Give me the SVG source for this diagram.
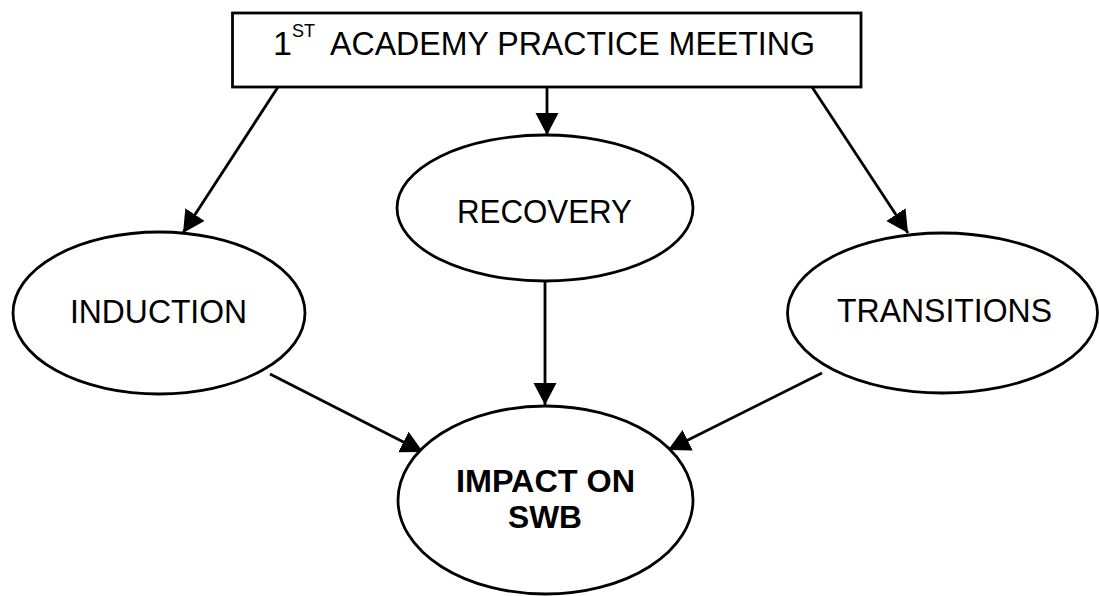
<svg xmlns="http://www.w3.org/2000/svg" width="1099" height="596" viewBox="0 0 1099 596">
<style>
.shape{fill:#fff;stroke:#000;stroke-width:2.8}
.lbl{font-family:"Liberation Sans",Arial,sans-serif;font-size:34px;fill:#000}
.sup{font-size:18px}
.bold{font-weight:bold;font-size:32px}
.edge{stroke:#000;stroke-width:2.8;fill:none;marker-end:url(#arr)}
</style>
<defs>
<marker id="arr" markerUnits="userSpaceOnUse" markerWidth="24" markerHeight="24" refX="22" refY="11.5" orient="auto">
<path d="M0,0 L22,11.5 L0,23 z" fill="#000"/>
</marker>
</defs>
<rect width="1099" height="596" fill="#fff"/>
<g id="connectors">
<line class="edge" x1="278" y1="87" x2="183" y2="233"/>
<line class="edge" x1="547" y1="87" x2="547" y2="135"/>
<line class="edge" x1="812" y1="87" x2="908" y2="233"/>
<line class="edge" x1="270" y1="374" x2="423" y2="452"/>
<line class="edge" x1="545" y1="281" x2="545" y2="405"/>
<line class="edge" x1="822" y1="373" x2="668" y2="450"/>
</g>
<g id="meeting">
<rect class="shape" x="232.5" y="13" width="628.5" height="74"/>
<text class="lbl" x="273" y="55">1</text>
<text class="lbl sup" x="292" y="37">ST</text>
<text class="lbl" x="330" y="55" textLength="485" lengthAdjust="spacingAndGlyphs">ACADEMY PRACTICE MEETING</text>
</g>
<g id="recovery">
<ellipse class="shape" cx="545" cy="208" rx="148" ry="73"/>
<text class="lbl" x="457" y="223" textLength="175" lengthAdjust="spacingAndGlyphs">RECOVERY</text>
</g>
<g id="induction">
<ellipse class="shape" cx="159" cy="313" rx="146" ry="81"/>
<text class="lbl" x="70" y="323" textLength="177" lengthAdjust="spacingAndGlyphs">INDUCTION</text>
</g>
<g id="transitions">
<ellipse class="shape" cx="942.5" cy="313" rx="155" ry="80"/>
<text class="lbl" x="837" y="322" textLength="215" lengthAdjust="spacingAndGlyphs">TRANSITIONS</text>
</g>
<g id="impact">
<ellipse class="shape" cx="545.5" cy="500" rx="147.5" ry="94"/>
<text class="lbl bold" x="456" y="492" textLength="179" lengthAdjust="spacingAndGlyphs">IMPACT ON</text>
<text class="lbl bold" x="508" y="528" textLength="74" lengthAdjust="spacingAndGlyphs">SWB</text>
</g>
</svg>
